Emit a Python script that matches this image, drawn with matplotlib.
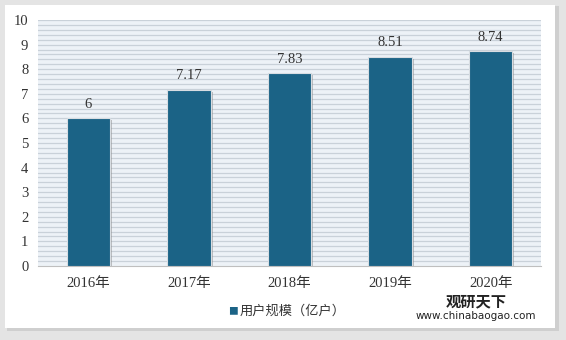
import matplotlib.pyplot as plt
import matplotlib.patches as mpatches
import matplotlib.patheffects as pe
import numpy as np

years = ["2016年", "2017年", "2018年", "2019年", "2020年"]
users = [6, 7.17, 7.83, 8.51, 8.74]
value_labels = ["6", "7.17", "7.83", "8.51", "8.74"]
legend_label = "用户规模（亿户）"

bar_color = "#1b6386"
serif = ["Liberation Serif", "Noto Sans CJK SC"]
sans = ["Noto Sans CJK SC", "DejaVu Sans"]

fig = plt.figure(figsize=(5.66, 3.4), dpi=100)
fig.patch.set_facecolor("#e4e4e4")

# white panel with shadow
fig.patches.append(mpatches.Rectangle((7 / 566, 1 - 331 / 340), 552 / 566, 325 / 340,
                                      transform=fig.transFigure, facecolor="#cfcfcf",
                                      edgecolor="none", zorder=-10))
fig.patches.append(mpatches.Rectangle((5 / 566, 1 - 328 / 340), 550 / 566, 323 / 340,
                                      transform=fig.transFigure, facecolor="white",
                                      edgecolor="none", zorder=-9))

ax = fig.add_axes([38 / 566, 1 - 266 / 340, 503 / 566, 246 / 340])
ax.set_facecolor("#edf2f7")

# striped background
for y in np.arange(0.2, 10.01, 0.2):
    ax.axhline(y, color="#c9d1d9", lw=0.9, zorder=0)

x = np.arange(len(years))
bars = ax.bar(x, users, width=0.43, color=bar_color, edgecolor="#d8dde2", linewidth=0.8,
              zorder=3)
for b in bars:
    b.set_path_effects([pe.SimplePatchShadow(offset=(1.5, -1.5), shadow_rgbFace="#888888",
                                             alpha=0.5), pe.Normal()])

for xi, v, lab in zip(x, users, value_labels):
    ax.text(xi, v + 0.3, lab, ha="center", va="bottom", fontsize=10.5, family=serif,
            color="#333333")

ax.set_xlim(-0.5, 4.5)
ax.set_ylim(0, 10)
ax.set_yticks(range(0, 11))
ax.set_xticks(x)
ax.set_xticklabels(years)
for lbl in ax.get_xticklabels() + ax.get_yticklabels():
    lbl.set_family(serif)
    lbl.set_fontsize(10.5)
    lbl.set_color("#333333")
ax.tick_params(length=0)
ax.tick_params(axis="x", pad=8)
ax.tick_params(axis="y", pad=7)
for s in ax.spines.values():
    s.set_visible(False)
ax.spines["bottom"].set_visible(True)
ax.spines["bottom"].set_color("#bfbfbf")

# legend
fig.text(228 / 566, 1 - 311 / 340, "■", color=bar_color, fontsize=7, va="center",
         family=sans)
fig.text(240 / 566, 1 - 311 / 340, legend_label, color="#333333", fontsize=9.5,
         va="center", family=sans)

# watermark
fig.text(476 / 566, 1 - 301 / 340, "观研天下", fontsize=11, fontweight="bold",
         color="#222222", va="center", ha="center", family=sans)
fig.text(476 / 566, 1 - 316 / 340, "www.chinabaogao.com", fontsize=7.5,
         color="#222222", va="center", ha="center", family=["DejaVu Sans"])

fig.savefig("out.png", dpi=100, facecolor=fig.get_facecolor())
